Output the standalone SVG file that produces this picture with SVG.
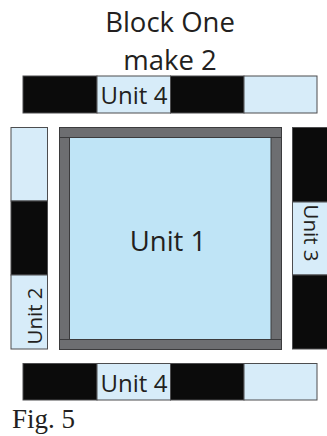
<svg xmlns="http://www.w3.org/2000/svg" width="327" height="436" viewBox="0 0 327 436">
<style>
.lt{fill:#d7ecf9;stroke:#4d4d4f;stroke-width:1}
.bk{fill:#0b0b0b;stroke:#4d4d4f;stroke-width:1}
.gr{fill:#6d6e71;stroke:#3b3b3d;stroke-width:1}
.in{fill:#bfe4f6;stroke:#3b3b3d;stroke-width:1}
.t{font-family:"Open Sans","Noto Sans",sans-serif;fill:#231f20}
.f{font-family:"Liberation Serif","Times New Roman",serif;fill:#231f20}
</style>
<rect width="327" height="436" fill="#ffffff"/>
<g id="title">
<text class="t" x="170" y="32" font-size="27.5" text-anchor="middle">Block One</text>
<text class="t" x="170" y="70" font-size="27.5" text-anchor="middle">make 2</text>
</g>
<g id="unit4-top">
<rect class="bk" x="23" y="76" width="74" height="37"/>
<rect class="lt" x="97" y="76" width="73.5" height="37"/>
<rect class="bk" x="170.5" y="76" width="73.5" height="37"/>
<rect class="lt" x="244" y="76" width="73" height="37"/>
<text class="t" x="134" y="104.3" font-size="24" text-anchor="middle">Unit 4</text>
</g>
<g id="unit2">
<rect class="lt" x="11" y="127.5" width="36.5" height="73.5"/>
<rect class="bk" x="11" y="201" width="36.5" height="74"/>
<rect class="lt" x="11" y="275" width="36.5" height="74"/>
<text class="t" transform="translate(42,316) rotate(-90)" font-size="20.5" text-anchor="middle">Unit 2</text>
</g>
<g id="unit1">
<rect class="gr" x="59.5" y="127.5" width="222" height="222"/>
<rect class="gr" x="59.5" y="127.5" width="222" height="10"/>
<rect class="gr" x="59.5" y="339.5" width="222" height="10"/>
<rect class="in" x="69.5" y="137.5" width="201.5" height="202"/>
<text class="t" x="168" y="251" font-size="27.5" text-anchor="middle">Unit 1</text>
</g>
<g id="unit3">
<rect class="bk" x="292.5" y="127.5" width="38" height="74.5"/>
<rect class="lt" x="292.5" y="202" width="38" height="73"/>
<rect class="bk" x="292.5" y="275" width="38" height="74"/>
<text class="t" transform="translate(303.5,233) rotate(90)" font-size="20.5" text-anchor="middle">Unit 3</text>
</g>
<g id="unit4-bottom">
<rect class="bk" x="23" y="363.5" width="74" height="36.5"/>
<rect class="lt" x="97" y="363.5" width="73.5" height="36.5"/>
<rect class="bk" x="170.5" y="363.5" width="73.5" height="36.5"/>
<rect class="lt" x="244" y="363.5" width="73" height="36.5"/>
<text class="t" x="134" y="391.5" font-size="24" text-anchor="middle">Unit 4</text>
</g>
<g id="caption">
<text class="f" x="12" y="428" font-size="27">Fig. 5</text>
</g>
<g id="connectors"></g>
</svg>
